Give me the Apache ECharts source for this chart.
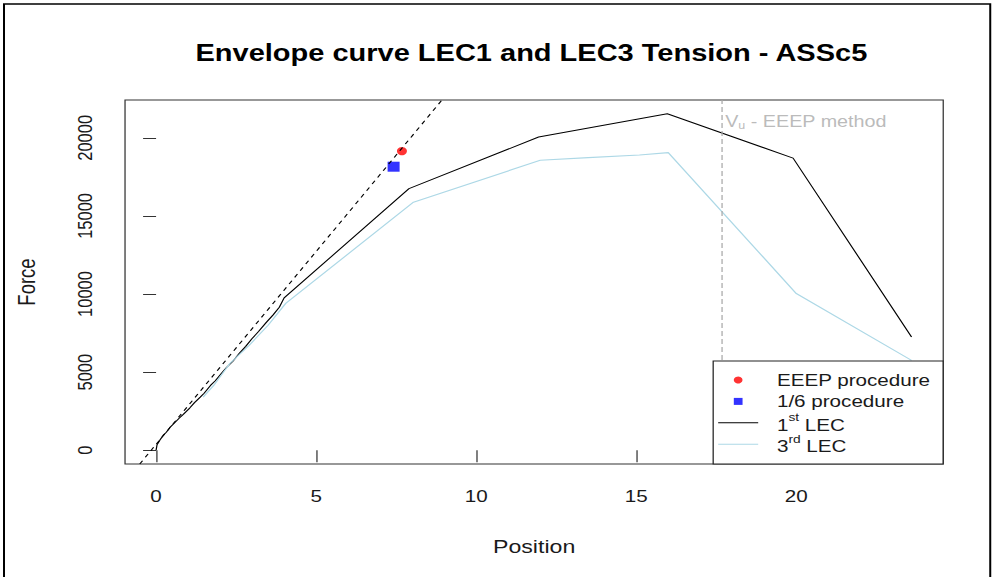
<!DOCTYPE html>
<html>
<head>
<meta charset="utf-8">
<script src="https://cdn.jsdelivr.net/npm/echarts@6/dist/echarts.min.js"></script>
<style>
html,body{margin:0;padding:0;background:#fff;overflow:hidden}
#wrap{width:994px;height:577px;overflow:hidden;position:relative;background:#fff}
#chart{width:795px;height:577px;transform:scale(1.25031,1);transform-origin:0 0}
</style>
</head>
<body>
<div id="wrap"><div id="chart"></div></div>
<script>
// ---- data ----
const titleText = 'Envelope curve LEC1 and LEC3 Tension - ASSc5';
const xTicks = [0, 5, 10, 15, 20];
const yTicks = [0, 5000, 10000, 15000, 20000];

const lec1X = [0, 0.03, 0.12, 0.22, 0.32, 0.45, 0.55, 0.72, 0.85, 1.05, 1.2, 1.38, 1.5, 1.7, 1.85, 2.05, 2.2, 2.4, 2.6, 2.8, 3.0, 3.2, 3.45, 3.65, 3.85, 4.0, 7.9, 11.95, 15.97, 19.9, 23.6];
const lec1Y = [0, 350, 650, 950, 1150, 1500, 1700, 2050, 2300, 2700, 3050, 3400, 3650, 4150, 4450, 4950, 5300, 5700, 6200, 6650, 7150, 7600, 8200, 8650, 9150, 9750, 16750, 20050, 21540, 18700, 7250];

const lec3X = [1.47, 1.8, 2.31, 2.9, 3.5, 4.05, 8.04, 12.0, 13.5, 15.1, 16.0, 20.0, 23.6];
const lec3Y = [3400, 4150, 5570, 6700, 8000, 9400, 15880, 18560, 18730, 18900, 19050, 10030, 5750];

const stiffX = [-0.51, 8.93];
const stiffY = [-880, 22420];

const eeepPoint = [7.68, 19150];
const sixthPoint = [7.42, 18150];

const vuX = 17.68;
const vuLabelY = 21000;

const legendNames = ['EEEP procedure', '1/6 procedure', '1st LEC', '3rd LEC'];

// ---- chart ----
const FONT = "'Liberation Sans', Arial, Helvetica, sans-serif";
const TXT = '#1a1a1a';
const LINE_ICON = 'path://M0 0H100V3H0Z';
const SQUARE_ICON = 'path://M0 0H10V10H0Z';
const chart = echarts.init(document.getElementById('chart'), null, {renderer: 'svg'});

const pairs = (xs, ys) => xs.map((x, i) => [x, ys[i]]);

const option = {
  animation: false,
  backgroundColor: 'transparent',
  title: {
    text: titleText,
    left: 425,
    top: 41.5,
    textAlign: 'center',
    padding: 0,
    textStyle: {fontFamily: FONT, fontSize: 23.2, fontWeight: 'bold', color: '#000'}
  },
  grid: {
    left: 100, right: 40.6, top: 100, bottom: 113,
    show: true, borderColor: '#333', borderWidth: 1, backgroundColor: 'transparent'
  },
  xAxis: {
    type: 'value', min: -0.97, max: 24.59,
    axisLine: {show: false},
    splitLine: {show: false},
    axisTick: {show: true, length: 12, customValues: xTicks, lineStyle: {color: '#333', width: 1}},
    axisLabel: {customValues: xTicks, margin: 24, fontSize: 16.5, color: TXT, fontFamily: FONT,
      formatter: v => String(v)},
    name: 'Position', nameLocation: 'middle', nameGap: 73,
    nameTextStyle: {fontSize: 18.5, color: TXT, fontFamily: FONT}
  },
  yAxis: {
    type: 'value', min: -880, max: 22420,
    axisLine: {show: false},
    splitLine: {show: false},
    axisTick: {show: true, length: 10.4, customValues: yTicks, lineStyle: {color: '#333', width: 1}},
    axisLabel: {customValues: yTicks, rotate: 90, margin: 23.5, fontSize: 16.5, color: TXT, fontFamily: FONT,
      formatter: v => String(v)},
    name: 'Force', nameLocation: 'middle', nameGap: 69,
    nameTextStyle: {fontSize: 18.5, color: TXT, fontFamily: FONT}
  },
  legend: {
    data: [
      {name: legendNames[0]},
      {name: legendNames[1], icon: SQUARE_ICON},
      {name: legendNames[2], icon: LINE_ICON},
      {name: legendNames[3], icon: LINE_ICON}
    ],
    orient: 'vertical',
    left: 570.4, top: 361,
    padding: [8.3, 10, 9.1, 4],
    itemGap: 0,
    itemWidth: 32, itemHeight: 7,
    symbolKeepAspect: true,
    selectedMode: false,
    backgroundColor: '#fff',
    borderColor: '#222', borderWidth: 1, borderRadius: 0,
    formatter: function (name) {
      if (name === '1st LEC') return '{n0|1}{s|st}{n| LEC}';
      if (name === '3rd LEC') return '{n0|3}{s|rd}{n| LEC}';
      return '{p|' + name + '}';
    },
    textStyle: {
      fontFamily: FONT, color: TXT, fontSize: 16.5, lineHeight: 21.4,
      rich: {
        p: {fontFamily: FONT, color: TXT, fontSize: 16.5, lineHeight: 21.4, padding: [0, 0, 0, 10]},
        n0: {fontFamily: FONT, color: TXT, fontSize: 16.5, lineHeight: 12, verticalAlign: 'bottom', padding: [0, 0, 0, 10]},
        n: {fontFamily: FONT, color: TXT, fontSize: 16.5, lineHeight: 12, verticalAlign: 'bottom'},
        s: {fontFamily: FONT, color: TXT, fontSize: 11, lineHeight: 21.4, verticalAlign: 'top'}
      }
    },
    z: 10
  },
  graphic: [{
    type: 'rect', silent: true, z: 100,
    shape: {x: 3.2, y: 4, width: 788.8, height: 620},
    style: {fill: 'none', stroke: '#000', lineWidth: 1.6}
  }],
  series: [
    {
      name: '1st LEC', type: 'line', data: pairs(lec1X, lec1Y),
      symbol: 'none', silent: true, emphasis: {disabled: true},
      lineStyle: {color: '#000', width: 1}, itemStyle: {color: '#000'}
    },
    {
      name: '3rd LEC', type: 'line', data: pairs(lec3X, lec3Y),
      symbol: 'none', silent: true, emphasis: {disabled: true},
      lineStyle: {color: '#ADD8E6', width: 1.1}, itemStyle: {color: '#ADD8E6'}
    },
    {
      name: 'Initial stiffness', type: 'line', data: pairs(stiffX, stiffY),
      symbol: 'none', silent: true, emphasis: {disabled: true},
      lineStyle: {color: '#000', width: 1, type: [4, 4]}
    },
    {
      name: 'EEEP procedure', type: 'scatter', data: [eeepPoint],
      symbol: 'circle', symbolSize: [8, 8.3], silent: true, emphasis: {disabled: true},
      itemStyle: {color: '#FF0000'}
    },
    {
      name: '1/6 procedure', type: 'scatter', data: [sixthPoint],
      symbol: 'rect', symbolSize: [9.6, 10], silent: true, emphasis: {disabled: true},
      itemStyle: {color: '#0000FF'}
    },
    {
      name: 'Vu - EEEP method', type: 'scatter', data: [[vuX, vuLabelY]],
      symbolSize: 1, silent: true, emphasis: {disabled: true},
      itemStyle: {color: 'rgba(0,0,0,0)'},
      label: {
        show: true, position: 'right', distance: 2,
        formatter: '{v|V}{u|u}{v| - EEEP method}',
        rich: {
          v: {fontFamily: FONT, fontSize: 15.8, color: '#A9A9A9', lineHeight: 16},
          u: {fontFamily: FONT, fontSize: 10, color: '#A9A9A9', lineHeight: 10, verticalAlign: 'bottom'}
        }
      },
      markLine: {
        silent: true, symbol: 'none',
        label: {show: false},
        lineStyle: {color: '#A9A9A9', width: 1, type: [5, 3]},
        emphasis: {disabled: true},
        data: [{xAxis: vuX}]
      }
    }
  ]
};
chart.setOption(option);
</script>
</body>
</html>
